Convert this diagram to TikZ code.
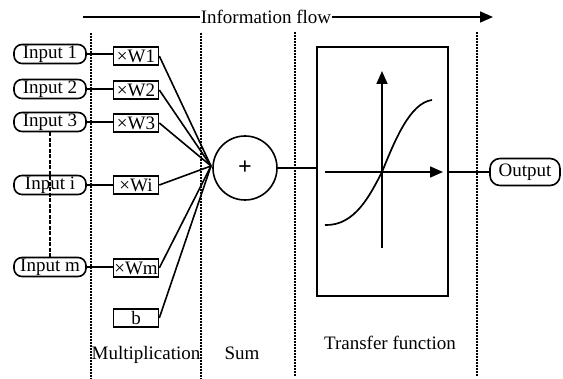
\documentclass[tikz,border=0pt]{standalone}
\usepackage{fontspec}
\setmainfont{Liberation Serif}
\usetikzlibrary{arrows.meta}
\begin{document}
\begin{tikzpicture}[x=1pt,y=-1pt,
  txt/.style={font=\fontsize{19}{21}\selectfont, inner sep=0pt},
  inbox/.style={txt, draw, line width=1.6pt, rounded corners=8pt, minimum width=72pt, minimum height=19pt},
  wbox/.style={txt, draw, line width=1.6pt, minimum width=45pt, minimum height=18pt},
  conn/.style={line width=1.6pt},
  thick conn/.style={line width=2.5pt},
  sep/.style={line width=1.5pt, dash pattern=on 2pt off 1pt},
  tip/.style={-{Triangle[length=13pt,width=11pt]}}
]
\useasboundingbox (0,0) rectangle (563,379);
% information flow
\coordinate (fstart) at (83,17);
\coordinate (fend) at (493,17);
\node[txt, fill=white, inner xsep=1pt] (info) at (266,17) {Information flow};
\draw[conn] (fstart) -- (info.west);
\draw[conn, tip] (info.east) -- (fend);
% separators
\coordinate (s1a) at (91,33); \coordinate (s1b) at (91,379);
\coordinate (s2a) at (201,33); \coordinate (s2b) at (201,379);
\coordinate (s3a) at (295,32); \coordinate (s3b) at (295,376);
\coordinate (s4a) at (477,32); \coordinate (s4b) at (477,376);
\draw[sep] (s1a) -- (s1b);
\draw[sep] (s2a) -- (s2b);
\draw[sep] (s3a) -- (s3b);
\draw[sep] (s4a) -- (s4b);
% inputs
\node[inbox] (in1) at (50,54) {Input 1};
\node[inbox] (in2) at (50,89) {Input 2};
\node[inbox] (in3) at (50,122) {Input 3};
\node[inbox] (ini) at (50,185) {Input i};
\node[inbox] (inm) at (50,267) {Input m};
\draw[line width=2pt, dash pattern=on 4pt off 1.5pt] (in3.south) -- (inm.north);
% weights
\node[wbox] (w1) at (136,56) {×W1};
\node[wbox] (w2) at (136,90) {×W2};
\node[wbox] (w3) at (136,123) {×W3};
\node[wbox] (wi) at (136,185) {×Wi};
\node[wbox] (wm) at (136,268) {×Wm};
\node[wbox] (b) at (136,318) {b};
\draw[conn] (in1.east) -- (w1.west|-in1.east);
\draw[conn] (in2.east) -- (w2.west|-in2.east);
\draw[conn] (in3.east) -- (w3.west|-in3.east);
\draw[conn] (ini.east) -- (wi.west|-ini.east);
\draw[conn] (inm.east) -- (wm.west|-inm.east);
% sum
\node[draw, circle, line width=1.6pt, minimum size=64pt, inner sep=0pt, font=\fontsize{24}{26}\selectfont\bfseries] (sum) at (245,168) {+};
\coordinate (conv) at (211,166);
\foreach \w in {w1,w2,w3,wi,wm,b} \draw[conn] (\w.east) -- (conv);
% transfer
\node[draw, line width=1.6pt, minimum width=131pt, minimum height=249pt, inner sep=0pt] (tf) at (382.5,171.5) {};
\draw[thick conn] (sum.east) -- (tf.west|-sum.east);
\coordinate (vax0) at (382,248); \coordinate (vax1) at (382,71);
\coordinate (hax0) at (325,172); \coordinate (hax1) at (443,172);
\draw[conn, tip] (vax0) -- (vax1);
\draw[conn, tip] (hax0) -- (hax1);
\coordinate (sg0) at (325,225); \coordinate (sgm) at (382,172); \coordinate (sg1) at (432,100);
\draw[line width=1.7pt] (sg0) .. controls (355,226) and (370,195) .. (sgm) .. controls (395,140) and (410,103) .. (sg1);
% output
\node[inbox, minimum width=70pt, minimum height=27pt, rounded corners=10pt] (out) at (525,172) {Output};
\draw[thick conn] (tf.east|-out.west) -- (out.west);
% labels
\node[txt] (lmul) at (146,355) {Multiplication};
\node[txt] (lsum) at (242,353) {Sum};
\node[txt] (ltf) at (390,343) {Transfer function};
\end{tikzpicture}
\end{document}
